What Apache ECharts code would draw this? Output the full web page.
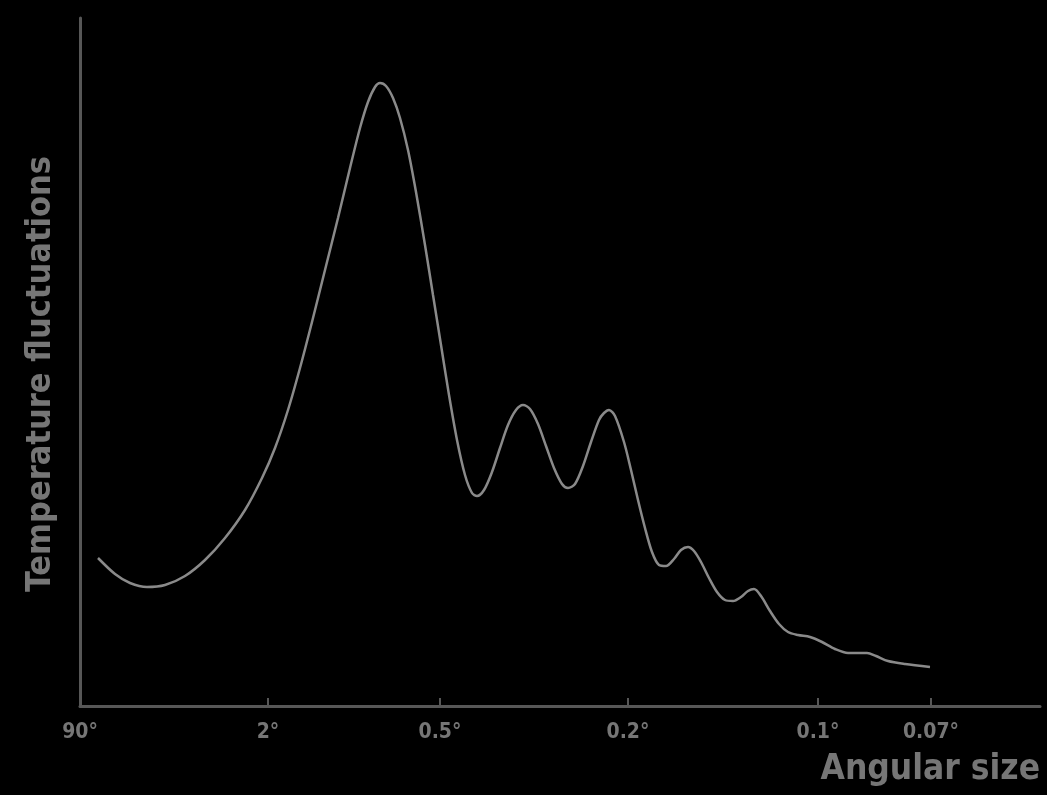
<!DOCTYPE html>
<html>
<head>
<meta charset="utf-8">
<script src="https://cdn.jsdelivr.net/npm/echarts@6/dist/echarts.min.js"></script>
<style>
html,body{margin:0;padding:0;background:#000;}
#c{width:1047px;height:795px;}
</style>
</head>
<body>
<div id="c"></div>
<script>
// Horizontal position along the angular-size axis (0 = 90°, 960 = right end of axis)
const xPos = [18,35,50,67,85,105,125,145,165,182,195,208,220,232,245,258,270,280,288,295,300,306,313,320,328,336,345,353,361,369,377,385,392,397,404,412,420,428,436,443,450,458,466,474,482,488,495,503,511,519,524,529,535,544,551,558,565,572,579,586,594,601,608,614,621,629,637,645,653,661,668,674,681,690,699,708,718,730,742,755,768,778,787,796,808,825,850];
// Relative amplitude of temperature fluctuations (0 = axis)
const amplitude = [148,132,123,119,121,130,146,168,196,228,258,296,338,384,436,488,538,578,604,619,623,620,608,588,556,514,461,411,361,311,266,231,213,210,216,234,258,281,296,301,297,282,260,238,222,218,222,240,264,286,293,296,290,264,236,206,178,154,141,140,147,156,159,155,144,128,114,106,105,109,115,117,110,95,82,74,71,69,64,57,53,53,53,50,45,42,39];
const tickPos = [0,188,360,548,738,851];
const tickLabels = ['90°','2°','0.5°','0.2°','0.1°','0.07°'];

const data = xPos.map((x,i)=>[x, amplitude[i]]);
const chart = echarts.init(document.getElementById('c'));
const font = '"Liberation Sans Narrow","DejaVu Sans Condensed",sans-serif';
chart.setOption({
  backgroundColor:'#000',
  animation:false,
  grid:{left:80,right:7,top:18,bottom:89},
  xAxis:{
    type:'value',min:0,max:960,
    name:'Angular size',
    nameLocation:'end',nameGap:0,
    nameTextStyle:{color:'#767676',fontFamily:font,fontWeight:'bold',fontSize:35,align:'right',verticalAlign:'top',padding:[46,0,0,0]},
    axisLine:{show:true,lineStyle:{color:'#575757',width:3}},
    axisTick:{show:true,inside:true,length:8,customValues:tickPos.slice(1),lineStyle:{color:'#575757',width:2}},
    axisLabel:{show:true,customValues:tickPos,formatter:(v)=>tickLabels[tickPos.indexOf(v)]||'',
      color:'#767676',fontFamily:font,fontWeight:'bold',fontSize:21,margin:16},
    splitLine:{show:false}
  },
  yAxis:{
    type:'value',min:0,max:688,
    name:'Temperature fluctuations',
    nameLocation:'middle',nameRotate:90,nameGap:22,
    nameTextStyle:{color:'#767676',fontFamily:font,fontWeight:'bold',fontSize:34,padding:[0,24,0,0]},
    axisLine:{show:true,lineStyle:{color:'#575757',width:3}},
    axisTick:{show:false},axisLabel:{show:false},splitLine:{show:false}
  },
  series:[{
    type:'line',data:data,smooth:0.3,showSymbol:false,
    lineStyle:{color:'#8a8a8a',width:2.5}
  }]
});
</script>
</body>
</html>
